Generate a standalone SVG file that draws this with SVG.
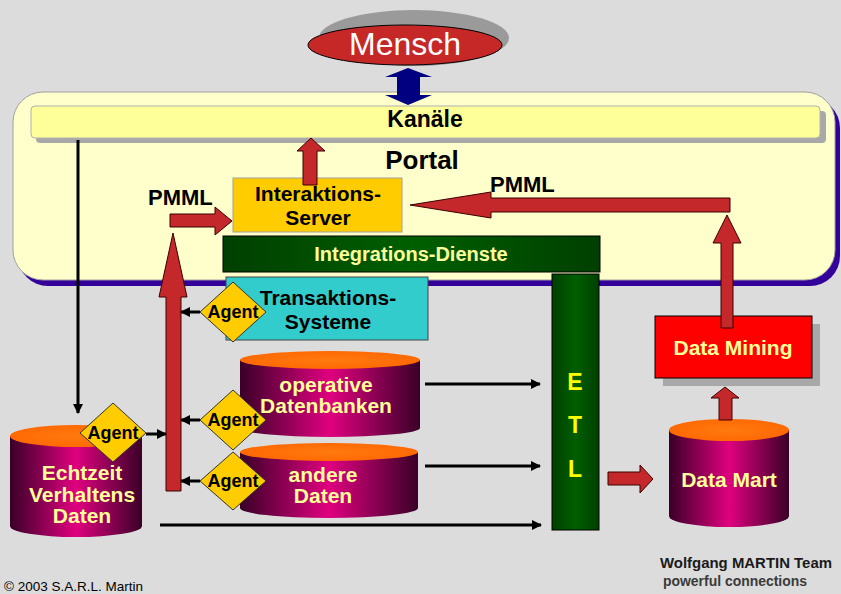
<svg xmlns="http://www.w3.org/2000/svg" width="841" height="594" viewBox="0 0 841 594">
<defs>
<linearGradient id="cyl" x1="0" y1="0" x2="1" y2="0">
<stop offset="0" stop-color="#3a0028"/>
<stop offset="0.5" stop-color="#e0007f"/>
<stop offset="1" stop-color="#3a0028"/>
</linearGradient>
<radialGradient id="top" cx="0.5" cy="0.5" r="0.6">
<stop offset="0" stop-color="#ff7a10"/>
<stop offset="1" stop-color="#ff6600"/>
</radialGradient>
<linearGradient id="green" x1="0" y1="0" x2="1" y2="0">
<stop offset="0" stop-color="#003f00"/>
<stop offset="0.5" stop-color="#005f00"/>
<stop offset="1" stop-color="#003f00"/>
</linearGradient>
<marker id="ahs" viewBox="0 0 10 10" refX="9" refY="5" markerWidth="10" markerHeight="10" orient="auto" markerUnits="userSpaceOnUse">
<path d="M0,0 L10,5 L0,10 z" fill="#000"/>
</marker>
</defs>
<style>
.bold{font-family:"Liberation Sans",Arial,sans-serif;font-weight:bold}
.lbl{font-size:21px;fill:#000;text-anchor:middle}
.yel{font-size:21px;fill:#ffff99;text-anchor:middle}
.agent{font-size:18px;fill:#000;text-anchor:middle}
.red{fill:#c4282a;stroke:#3a0000;stroke-width:1}
.dia{fill:#ffcc00;stroke:#333;stroke-width:1}
.cylbody{fill:url(#cyl)}
.cyltop{fill:url(#top)}
.conn{stroke:#000;stroke-width:3;fill:none}
</style>
<rect x="0" y="0" width="841" height="594" fill="#dcdcdc"/>

<g id="portal">
<rect x="18" y="98" width="822" height="188" rx="30" fill="#330099"/>
<rect x="13" y="92" width="822" height="188" rx="30" fill="#ffffcc" stroke="#a0a0a0" stroke-width="1"/>
<text class="bold" x="422" y="169" font-size="26" text-anchor="middle">Portal</text>
</g>

<g id="kanaele">
<rect x="36" y="111" width="790" height="32" rx="4" fill="#a8a8a8"/>
<rect x="31" y="106" width="789" height="32" rx="4" fill="#ffff99" stroke="#b0b0b0" stroke-width="1"/>
<text class="bold" x="425" y="127" font-size="23" text-anchor="middle">Kanäle</text>
</g>

<g id="mensch">
<ellipse cx="414" cy="38" rx="95" ry="28" fill="#9a9a9a"/>
<ellipse cx="405" cy="45" rx="97" ry="20" fill="#c62828" stroke="#000" stroke-width="1"/>
<text x="405" y="55" font-family="Liberation Sans,Arial,sans-serif" font-size="32" fill="#fff" text-anchor="middle">Mensch</text>
</g>

<g id="interaktions-server">
<rect x="233" y="178" width="169" height="54" fill="#ffcc00" stroke="#a0a0a0" stroke-width="1"/>
<text class="bold lbl" x="318" y="201">Interaktions-</text>
<text class="bold lbl" x="318" y="225">Server</text>
</g>

<g id="integrations-dienste">
<rect x="223" y="236" width="377" height="36" fill="url(#green)" stroke="#000" stroke-width="1"/>
<text class="bold yel" x="411" y="261" style="font-size:20px">Integrations-Dienste</text>
</g>

<g id="etl">
<rect x="552" y="274" width="47" height="256" fill="url(#green)" stroke="#000" stroke-width="1"/>
<text class="bold" x="575" y="390" font-size="23" fill="#ffff00" text-anchor="middle">E</text>
<text class="bold" x="575" y="433" font-size="23" fill="#ffff00" text-anchor="middle">T</text>
<text class="bold" x="575" y="477" font-size="23" fill="#ffff00" text-anchor="middle">L</text>
</g>

<g id="transaktions-systeme">
<rect x="226" y="277" width="202" height="63" fill="#33cccc" stroke="#444" stroke-width="1"/>
<text class="bold lbl" x="328" y="305">Transaktions-</text>
<text class="bold lbl" x="328" y="329">Systeme</text>
</g>

<g id="operative-datenbanken">
<path class="cylbody" d="M240,360 L240,428 A90,9 0 0 0 420,428 L420,360 z"/>
<ellipse class="cyltop" cx="330" cy="360" rx="90" ry="9"/>
<text class="bold yel" x="326" y="392">operative</text>
<text class="bold yel" x="326" y="413">Datenbanken</text>
</g>

<g id="andere-daten">
<path class="cylbody" d="M240,452 L240,508 A89,10 0 0 0 418,508 L418,452 z"/>
<ellipse class="cyltop" cx="329" cy="452" rx="89" ry="9"/>
<text class="bold yel" x="323" y="482">andere</text>
<text class="bold yel" x="323" y="503">Daten</text>
</g>

<g id="echtzeit">
<path class="cylbody" d="M10,436 L10,526 A66,11 0 0 0 142,526 L142,436 z"/>
<ellipse class="cyltop" cx="76" cy="436" rx="66" ry="11"/>
<text class="bold yel" x="82" y="480">Echtzeit</text>
<text class="bold yel" x="82" y="502">Verhaltens</text>
<text class="bold yel" x="82" y="523">Daten</text>
</g>

<g id="data-mart">
<path class="cylbody" d="M669,430 L669,516 A60,11 0 0 0 789,516 L789,430 z"/>
<ellipse class="cyltop" cx="729" cy="430" rx="60" ry="11"/>
<text class="bold yel" x="729" y="487">Data Mart</text>
</g>

<g id="data-mining">
<rect x="663" y="324" width="157" height="62" fill="#a8a8a8"/>
<rect x="655" y="316" width="157" height="62" fill="#ff0000" stroke="#000" stroke-width="1"/>
<text class="bold yel" x="733" y="355">Data Mining</text>
</g>

<g id="agent-transaktion">
<path class="dia" d="M233,282 L266,312 L233,342 L200,312 z"/>
<text class="bold agent" x="233" y="318">Agent</text>
</g>
<g id="agent-operative">
<path class="dia" d="M233,390 L266,420 L233,450 L200,420 z"/>
<text class="bold agent" x="233" y="426">Agent</text>
</g>
<g id="agent-andere">
<path class="dia" d="M233,452 L266,481 L233,510 L200,481 z"/>
<text class="bold agent" x="233" y="487">Agent</text>
</g>
<g id="agent-echtzeit">
<path class="dia" d="M113,403 L146,433 L113,462 L80,433 z"/>
<text class="bold agent" x="113" y="439">Agent</text>
</g>

<g id="connectors">
<path d="M408,68 L432,77 L420,77 L420,95 L432,95 L408,105 L385,95 L397,95 L397,77 L385,77 z" fill="#000080"/>
<path class="red" d="M303,185 L303,151 L297,151 L311,138 L325,151 L317,151 L317,185 z"/>
<path class="red" d="M170,214 L215,214 L215,207 L232,221 L215,235 L215,227 L170,227 z"/>
<path class="red" d="M166,491 L166,297 L159,297 L173,233 L187,297 L181,297 L181,491 z"/>
<path class="red" d="M730,198 L491,198 L491,192 L410,205 L491,218 L491,212 L730,212 z"/>
<path class="red" d="M721,328 L721,243 L713,243 L727,215 L741,243 L733,243 L733,328 z"/>
<path class="red" d="M719,420 L719,398 L711,398 L725,387 L739,398 L732,398 L732,420 z"/>
<path class="red" d="M608,472 L640,472 L640,465 L653,479 L640,493 L640,485 L608,485 z"/>
<line class="conn" x1="78" y1="140" x2="78" y2="413" marker-end="url(#ahs)"/>
<line class="conn" x1="200" y1="312" x2="181" y2="312" marker-end="url(#ahs)"/>
<line class="conn" x1="200" y1="420" x2="181" y2="420" marker-end="url(#ahs)"/>
<line class="conn" x1="200" y1="481" x2="181" y2="481" marker-end="url(#ahs)"/>
<line class="conn" x1="146" y1="434" x2="166" y2="434" marker-end="url(#ahs)"/>
<line class="conn" x1="425" y1="384" x2="540" y2="384" marker-end="url(#ahs)"/>
<line class="conn" x1="425" y1="466" x2="540" y2="466" marker-end="url(#ahs)"/>
<line class="conn" x1="160" y1="525" x2="541" y2="525" marker-end="url(#ahs)"/>
</g>

<g id="labels">
<text class="bold" x="148" y="205" font-size="22">PMML</text>
<text class="bold" x="490" y="192" font-size="22">PMML</text>
<text x="4" y="591" font-family="Liberation Sans,Arial,sans-serif" font-size="13.5" fill="#000">© 2003 S.A.R.L. Martin</text>
<text class="bold" x="660" y="568" font-size="15" fill="#1a1a1a" textLength="172" lengthAdjust="spacingAndGlyphs">Wolfgang MARTIN Team</text>
<text class="bold" x="663" y="586" font-size="14" fill="#3a3a3a" textLength="144" lengthAdjust="spacingAndGlyphs">powerful connections</text>
</g>
</svg>
